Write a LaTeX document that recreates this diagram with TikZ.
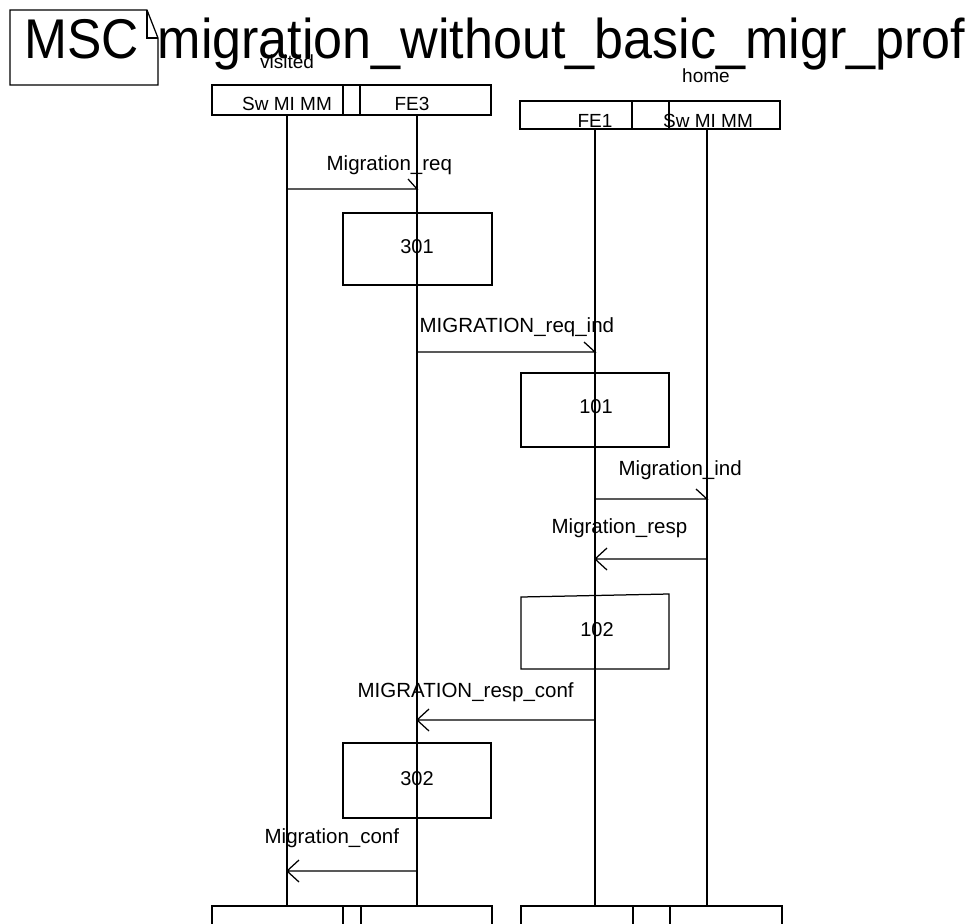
\documentclass[tikz,border=0pt]{standalone}
\usepackage{fontspec}
\setmainfont{Liberation Sans}
\usepackage{graphicx}
\begin{document}
\begin{tikzpicture}[x=1pt,y=-1pt,line width=1.25pt,
  lbl/.style={inner sep=0,anchor=base west,font=\fontsize{20.5}{24}\selectfont},
  ctr/.style={inner sep=0,anchor=base,font=\fontsize{20}{24}\selectfont},
  hdr/.style={inner sep=0,anchor=base,font=\fontsize{19}{22}\selectfont},
  ttl/.style={inner sep=0,anchor=base west,font=\fontsize{56}{60}\selectfont}]
\useasboundingbox (0,0) rectangle (970,924);
% frame
\draw (10,10) -- (147,10) -- (158,38) -- (158,85) -- (10,85) -- cycle;
\draw (147,10) -- (147,38) -- (158,38);
\node[ttl] (t1) at (23.5,58) {\scalebox{0.92}[1]{MSC}};
\node[ttl] (t2) at (157,58) {\scalebox{0.93}[1]{migration\_without\_basic\_migr\_prof}};
% environment labels
\node[hdr] (visited) at (287,68) {visited};
\node[hdr] (home) at (706,82) {home};
% headers
\draw (212,85) rectangle (491,115);
\draw (343,85) -- (343,115) (360,85) -- (360,115);
\node[hdr] (hSw1) at (287,110) {Sw MI MM};
\node[hdr] (hFE3) at (412,110) {FE3};
\draw (520,101) rectangle (780,129);
\draw (632,101) -- (632,129) (669,101) -- (669,129);
\node[hdr] (hFE1) at (595,127) {FE1};
\node[hdr] (hSw2) at (708,127) {Sw MI MM};
% bottom boxes
\draw (212,930) -- (212,906) -- (492,906) -- (492,930);
\draw (343,930) -- (343,906) -- (361,906) -- (361,930);
\draw (521,930) -- (521,906) -- (782,906) -- (782,930);
\draw (633,930) -- (633,906) -- (670,906) -- (670,930);
% lifelines
\coordinate (sT) at (287,115); \coordinate (sB) at (287,906);
\coordinate (fT) at (417,115); \coordinate (fB) at (417,906);
\coordinate (gT) at (595,129); \coordinate (gB) at (595,906);
\coordinate (hT) at (707,129); \coordinate (hB) at (707,906);
\draw (sT) -- (sB);
\draw (fT) -- (fB);
\draw (gT) -- (gB);
\draw (hT) -- (hB);
% action boxes
\draw[fill=white] (343,213) rectangle (492,285);
\draw[fill=white] (521,373) rectangle (669,447);
\draw[fill=white] (521,597) -- (669,594) -- (669,669) -- (521,669) -- cycle;
\draw[fill=white] (343,743) rectangle (491,818);
\draw (417,213) -- (417,285) (595,373) -- (595,447) (595,595) -- (595,669) (417,743) -- (417,818);
\node[ctr] (a301) at (417,253) {301};
\node[ctr] (a101) at (596,413) {101};
\node[ctr] (a102) at (597,636) {102};
\node[ctr] (a302) at (417,785) {302};
% messages
\coordinate (m1a) at (287,189); \coordinate (m1b) at (417,189);
\draw (m1a) -- (m1b) -- ++(-9,-10);
\node[lbl] (l1) at (326,170) {Migration\_req};
\coordinate (m2a) at (417,352); \coordinate (m2b) at (595,352);
\draw (m2a) -- (m2b) -- ++(-11,-10);
\node[lbl] (l2) at (419,332) {MIGRATION\_req\_ind};
\coordinate (m3a) at (595,499); \coordinate (m3b) at (707,499);
\draw (m3a) -- (m3b) -- ++(-11,-10);
\node[lbl] (l3) at (618,475) {Migration\_ind};
\coordinate (m4a) at (707,559); \coordinate (m4b) at (595,559);
\draw (m4a) -- (m4b) (m4b) -- ++(12,-11) (m4b) -- ++(12,11);
\node[lbl] (l4) at (551,533) {Migration\_resp};
\coordinate (m5a) at (595,720); \coordinate (m5b) at (417,720);
\draw (m5a) -- (m5b) (m5b) -- ++(12,-11) (m5b) -- ++(12,11);
\node[lbl] (l5) at (357,697) {MIGRATION\_resp\_conf};
\coordinate (m6a) at (417,871); \coordinate (m6b) at (287,871);
\draw (m6a) -- (m6b) (m6b) -- ++(12,-11) (m6b) -- ++(12,11);
\node[lbl] (l6) at (264,843) {Migration\_conf};
\end{tikzpicture}
\end{document}
